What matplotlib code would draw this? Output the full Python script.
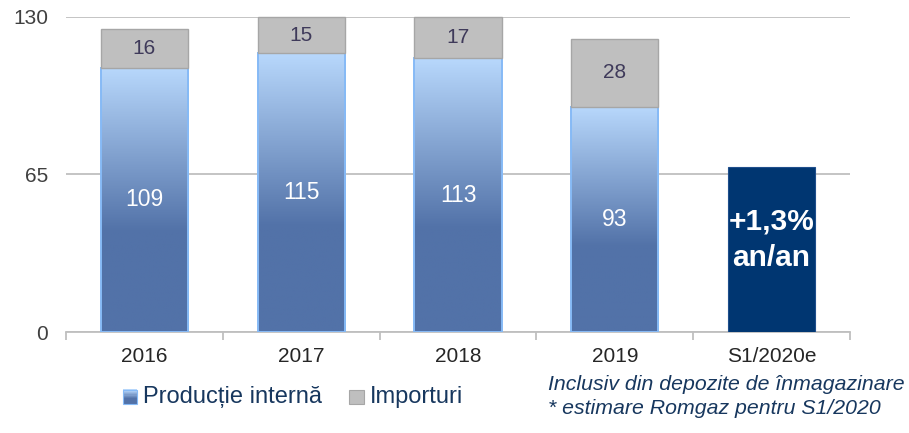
import matplotlib
matplotlib.use("Agg")
import matplotlib.pyplot as plt
import numpy as np
from matplotlib.colors import LinearSegmentedColormap
from matplotlib.patches import Rectangle, Patch
from matplotlib.legend_handler import HandlerBase

plt.rcParams["font.family"] = ["Liberation Sans", "DejaVu Sans"]

years = ["2016", "2017", "2018", "2019", "S1/2020e"]
productie = [109, 115, 113, 93]
importuri = [16, 15, 17, 28]
s1_total = 68
s1_label = "+1,3%\nan/an"

DARK = "#5272A8"
LIGHT = "#B8D8FC"
EDGE = "#86BAF6"
GRAY = "#BFBFBF"
NAVY = "#003671"
TEXT = "#17375E"

grad = LinearSegmentedColormap.from_list(
    "prod", [(0.0, DARK), (0.38, DARK), (1.0, LIGHT)])


class GradientHandler(HandlerBase):
    def create_artists(self, legend, orig, xd, yd, w, h, fontsize, trans):
        n = 12
        side = min(w, h)
        x0 = xd + (w - side) / 2
        arts = []
        for i in range(n):
            c = grad(i / (n - 1))
            r = Rectangle((x0, yd + side * i / n), side, side / n + 0.3,
                          facecolor=c, edgecolor="none", transform=trans)
            arts.append(r)
        arts.append(Rectangle((x0, yd), side, side, facecolor="none",
                              edgecolor=EDGE, lw=0.8, transform=trans))
        return arts


class SquareHandler(HandlerBase):
    def create_artists(self, legend, orig, xd, yd, w, h, fontsize, trans):
        side = min(w, h)
        x0 = xd + (w - side) / 2
        return [Rectangle((x0, yd), side, side, facecolor=orig.get_facecolor(),
                          edgecolor="#A6A6A6", lw=0.8, transform=trans)]


fig = plt.figure(figsize=(9.09, 4.33), dpi=100)
ax = fig.add_axes([66 / 909, 1 - 332 / 433, 784 / 909, 315 / 433])

x = np.arange(len(years))
w = 0.555
gcol = grad(np.linspace(0, 1, 256))[:, :3].reshape(256, 1, 3)

for xi, p, im in zip(x, productie, importuri):
    ax.imshow(gcol, extent=(xi - w / 2, xi + w / 2, 0, p), origin="lower",
              aspect="auto", zorder=2, interpolation="bilinear")
    ax.bar(xi, p, w, facecolor="none", edgecolor=EDGE, lw=1.4, zorder=3)
    ax.bar(xi, im, w, bottom=p, color=GRAY, edgecolor="#A6A6A6", lw=1.0,
           zorder=3, clip_on=False)
    ax.text(xi, p / 2, f"{p}", ha="center", va="center", color="white",
            fontsize=16.5, zorder=4)
    ax.text(xi, p + im / 2, f"{im}", ha="center", va="center",
            color="#3F3A5A", fontsize=15, zorder=4)

ax.bar(x[-1], s1_total, w, color=NAVY, edgecolor="#1F4E8C", lw=0.8, zorder=3)
ax.text(x[-1], 38, s1_label, ha="center", va="center", color="white",
        fontsize=21.5, fontweight="bold", linespacing=1.4, zorder=4)

ax.set_xlim(-0.5, len(years) - 0.5)
ax.set_ylim(0, 130)
ax.set_yticks([0, 65, 130])
ax.grid(axis="y", color=GRAY, lw=1.3, zorder=0)
ax.set_axisbelow(True)
for s in ["top", "right", "left"]:
    ax.spines[s].set_visible(False)
ax.spines["bottom"].set_color(GRAY)
ax.spines["bottom"].set_linewidth(1.3)

ax.set_xticks(x)
ax.set_xticklabels(years)
ax.set_xticks(np.arange(len(years) + 1) - 0.5, minor=True)
ax.tick_params(axis="x", which="major", length=0, pad=11, labelsize=15,
               labelcolor="#262626")
ax.tick_params(axis="x", which="minor", length=6, color=GRAY, width=1.3)
ax.tick_params(axis="y", length=0, pad=13, labelsize=15, labelcolor="#404040")

handles = [Patch(facecolor=DARK), Patch(facecolor=GRAY)]
leg = fig.legend(handles, ["Producție internă", "Importuri"],
                 handler_map={handles[0]: GradientHandler(),
                              handles[1]: SquareHandler()},
                 loc="center left", bbox_to_anchor=(102 / 909, 1 - 397 / 433),
                 ncol=2, frameon=False, fontsize=17, handlelength=0.6,
                 handleheight=0.6, handletextpad=0.25, columnspacing=1.15)
for t in leg.get_texts():
    t.set_color(TEXT)

fig.text(548 / 909, 1 - 385 / 433, "Inclusiv din depozite de înmagazinare",
         ha="left", va="center", style="italic", fontsize=15.3, color=TEXT)
fig.text(548 / 909, 1 - 409 / 433, "* estimare Romgaz pentru S1/2020",
         ha="left", va="center", style="italic", fontsize=15.3, color=TEXT)

fig.savefig("out.png", dpi=100)
